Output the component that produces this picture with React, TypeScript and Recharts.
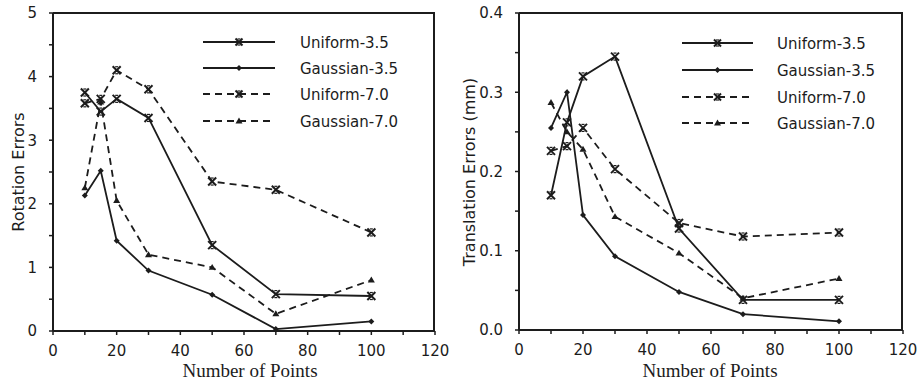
import React from 'react';
import {
  LineChart,
  Line,
  XAxis,
  YAxis,
} from 'recharts';

// number of points on the x axis
const points = [10, 15, 20, 30, 50, 70, 100];

// rotation errors (left panel)
const rotUniform35 = [3.75, 3.45, 3.65, 3.35, 1.35, 0.58, 0.55];
const rotGauss35 = [2.13, 2.52, 1.42, 0.95, 0.57, 0.03, 0.15];
const rotUniform70 = [3.58, 3.65, 4.1, 3.8, 2.35, 2.22, 1.55];
const rotGauss70 = [2.25, 3.6, 2.05, 1.2, 1.0, 0.27, 0.8];

// translation errors in mm (right panel)
const trUniform35 = [0.17, 0.262, 0.32, 0.345, 0.128, 0.038, 0.038];
const trGauss35 = [0.255, 0.3, 0.145, 0.093, 0.048, 0.02, 0.011];
const trUniform70 = [0.226, 0.232, 0.255, 0.203, 0.135, 0.118, 0.123];
const trGauss70 = [0.287, 0.25, 0.228, 0.143, 0.097, 0.04, 0.065];

const xTicks = [0, 10, 20, 30, 40, 50, 60, 70, 80, 90, 100, 110, 120];
const rotTicks = [0, 0.5, 1, 1.5, 2, 2.5, 3, 3.5, 4, 4.5, 5];
const trTicks = [0, 0.05, 0.1, 0.15, 0.2, 0.25, 0.3, 0.35, 0.4];

const seriesNames = ['Uniform-3.5', 'Gaussian-3.5', 'Uniform-7.0', 'Gaussian-7.0'];

const INK = '#1c1c1c';
const SANS = '"DejaVu Sans", sans-serif';
const SERIF = '"Liberation Serif", serif';
const TOP = 13;

const buildRows = (u35: number[], g35: number[], u70: number[], g70: number[]) =>
  points.map((n, i) => ({ n, u35: u35[i], g35: g35[i], u70: u70[i], g70: g70[i] }));

const rotData = buildRows(rotUniform35, rotGauss35, rotUniform70, rotGauss70);
const trData = buildRows(trUniform35, trGauss35, trUniform70, trGauss70);

// cross marker with tiny flat ends
const CrossMark = ({ cx, cy, s = 4 }: { cx: number; cy: number; s?: number }) => (
  <g stroke={INK} strokeWidth={2} fill="none">
    <line x1={cx - s} y1={cy - s} x2={cx + s} y2={cy + s} />
    <line x1={cx - s} y1={cy + s} x2={cx + s} y2={cy - s} />
    <line x1={cx - 1.5} y1={cy - s + 0.5} x2={cx + 1.5} y2={cy - s + 0.5} strokeWidth={1.2} />
    <line x1={cx - 1.5} y1={cy + s - 0.5} x2={cx + 1.5} y2={cy + s - 0.5} strokeWidth={1.2} />
  </g>
);

const DiamondMark = ({ cx, cy, r = 3 }: { cx: number; cy: number; r?: number }) => (
  <path d={`M${cx},${cy - r}L${cx + r},${cy}L${cx},${cy + r}L${cx - r},${cy}Z`} fill={INK} />
);

const TriMark = ({ cx, cy, r = 3.5 }: { cx: number; cy: number; r?: number }) => (
  <path d={`M${cx},${cy - r}L${cx + r},${cy + r * 0.7}L${cx - r},${cy + r * 0.7}Z`} fill={INK} />
);

const crossDot = (p: any) => <CrossMark key={`c-${p.index}`} cx={p.cx} cy={p.cy} />;
const diamondDot = (p: any) => <DiamondMark key={`d-${p.index}`} cx={p.cx} cy={p.cy} />;
const triDot = (p: any) => <TriMark key={`t-${p.index}`} cx={p.cx} cy={p.cy} />;

const XTick = (props: any) => {
  const { x, y, payload } = props;
  if (payload.value % 20 !== 0) return <g />;
  return (
    <text x={x} y={y + 10} dy="0.71em" textAnchor="middle" fontFamily={SANS} fontSize={15} fill={INK}>
      {payload.value}
    </text>
  );
};

const makeYTick = (step: number, digits: number) => (props: any) => {
  const { x, y, payload } = props;
  const k = payload.value / step;
  if (Math.abs(k - Math.round(k)) > 1e-6) return <g />;
  return (
    <text x={x - 12} y={y} dy="0.36em" textAnchor="end" fontFamily={SANS} fontSize={15} fill={INK}>
      {payload.value.toFixed(digits)}
    </text>
  );
};

const Legend4 = ({ x0, x1, tx, rows }: { x0: number; x1: number; tx: number; rows: number[] }) => {
  const mid = (x0 + x1) / 2;
  const marks = [
    <CrossMark cx={mid} cy={rows[0]} s={3.5} />,
    <DiamondMark cx={mid} cy={rows[1]} />,
    <CrossMark cx={mid} cy={rows[2]} s={3.5} />,
    <TriMark cx={mid} cy={rows[3]} />,
  ];
  return (
    <svg width={460} height={381} style={{ position: 'absolute', left: 0, top: 0, pointerEvents: 'none' }}>
      {seriesNames.map((name, i) => (
        <g key={name}>
          <line
            x1={x0}
            x2={x1}
            y1={rows[i]}
            y2={rows[i]}
            stroke={INK}
            strokeWidth={1.8}
            strokeDasharray={i >= 2 ? '7 5' : undefined}
          />
          {marks[i]}
          <text x={tx} y={rows[i] + 5.5} fontFamily={SANS} fontSize={15} fill={INK}>
            {name}
          </text>
        </g>
      ))}
    </svg>
  );
};

type PanelProps = {
  data: any[];
  yMax: number;
  yTicks: number[];
  yStep: number;
  yDigits: number;
  yLabel: string;
  yAxisWidth: number;
  right: number;
  xAxisHeight: number;
  yLabelX: number;
};

const Panel = ({ data, yMax, yTicks, yStep, yDigits, yLabel, yAxisWidth, right, xAxisHeight, yLabelX }: PanelProps) => (
  <LineChart width={460} height={381} data={data} margin={{ top: TOP, right, bottom: 0, left: 0 }}>
    <XAxis
      dataKey="n"
      type="number"
      domain={[0, 120]}
      ticks={xTicks}
      interval={0}
      height={xAxisHeight}
      tickSize={4}
      tickMargin={0}
      tick={XTick}
      axisLine={{ stroke: INK, strokeWidth: 2 }}
      tickLine={{ stroke: INK, strokeWidth: 1.5 }}
      label={() => (
        <text x={250} y={377} textAnchor="middle" fontFamily={SERIF} fontSize={19} fill={INK}>
          Number of Points
        </text>
      )}
    />
    <YAxis
      type="number"
      domain={[0, yMax]}
      ticks={yTicks}
      interval={0}
      width={yAxisWidth}
      tickSize={4}
      tickMargin={0}
      tick={makeYTick(yStep, yDigits)}
      axisLine={{ stroke: INK, strokeWidth: 2 }}
      tickLine={{ stroke: INK, strokeWidth: 1.5 }}
      label={() => (
        <text
          x={yLabelX}
          y={172}
          transform={`rotate(-90 ${yLabelX} 172)`}
          textAnchor="middle"
          dominantBaseline="central"
          fontFamily={SANS}
          fontSize={16}
          fill={INK}
        >
          {yLabel}
        </text>
      )}
    />
    <Line dataKey="u35" stroke={INK} strokeWidth={1.8} dot={crossDot} activeDot={false} isAnimationActive={false} />
    <Line dataKey="g35" stroke={INK} strokeWidth={1.8} dot={diamondDot} activeDot={false} isAnimationActive={false} />
    <Line
      dataKey="u70"
      stroke={INK}
      strokeWidth={1.8}
      strokeDasharray="7 5"
      dot={crossDot}
      activeDot={false}
      isAnimationActive={false}
    />
    <Line
      dataKey="g70"
      stroke={INK}
      strokeWidth={1.8}
      strokeDasharray="7 5"
      dot={triDot}
      activeDot={false}
      isAnimationActive={false}
    />
  </LineChart>
);

const leftPanel = { yAxisWidth: 53, right: 25, xAxisHeight: 50 };
const rightPanel = { yAxisWidth: 59, right: 17, xAxisHeight: 51 };

// top and right edge of the plot box, as a bordered div laid over the chart
const Frame = ({ p }: { p: { yAxisWidth: number; right: number; xAxisHeight: number } }) => (
  <div
    style={{
      position: 'absolute',
      left: p.yAxisWidth,
      top: TOP - 1,
      width: 460 - p.right - p.yAxisWidth,
      height: 381 - p.xAxisHeight - TOP,
      borderTop: `2px solid ${INK}`,
      borderRight: `2px solid ${INK}`,
      boxSizing: 'border-box',
      pointerEvents: 'none',
    }}
  />
);

export default function App() {
  return (
    <div style={{ position: 'absolute', left: 0, top: 0, width: 920, height: 381, background: '#fff' }}>
      <div style={{ position: 'absolute', left: 0, top: 0, width: 460, height: 381 }}>
        <Panel
          data={rotData}
          yMax={5}
          yTicks={rotTicks}
          yStep={1}
          yDigits={0}
          yLabel="Rotation Errors"
          {...leftPanel}
          yLabelX={18}
        />
        <Frame p={leftPanel} />
        <Legend4 x0={203} x1={275} tx={300} rows={[42, 68, 94, 121]} />
      </div>
      <div style={{ position: 'absolute', left: 460, top: 0, width: 460, height: 381 }}>
        <Panel
          data={trData}
          yMax={0.4}
          yTicks={trTicks}
          yStep={0.1}
          yDigits={1}
          yLabel="Translation Errors (mm)"
          {...rightPanel}
          yLabelX={9}
        />
        <Frame p={rightPanel} />
        <Legend4 x0={222} x1={293} tx={317} rows={[43, 70, 97, 123]} />
      </div>
    </div>
  );
}
